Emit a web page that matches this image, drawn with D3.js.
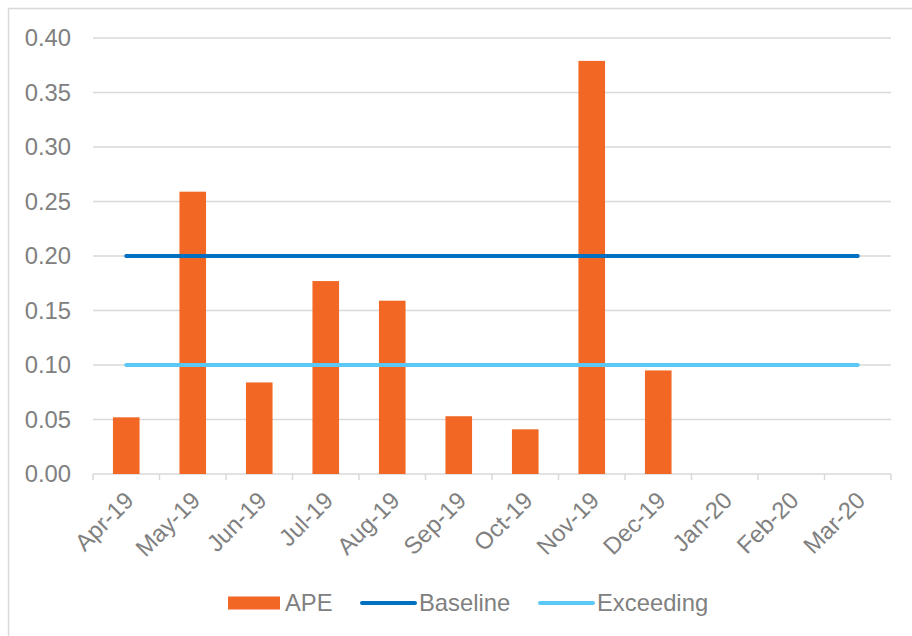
<!DOCTYPE html>
<html>
<head>
<meta charset="utf-8">
<script src="https://cdn.jsdelivr.net/npm/d3@7"></script>
<style>
  html, body { margin: 0; padding: 0; background: #fff; }
  svg { display: block; font-family: "Liberation Sans", Arial, sans-serif; }
</style>
</head>
<body>
<svg id="chart" width="912" height="636"></svg>
<script>
// Monthly categories
const months = ["Apr-19", "May-19", "Jun-19", "Jul-19", "Aug-19", "Sep-19",
                "Oct-19", "Nov-19", "Dec-19", "Jan-20", "Feb-20", "Mar-20"];
// APE values (no data yet for Jan–Mar 2020)
const apeValues = [0.052, 0.259, 0.084, 0.177, 0.159, 0.053, 0.041, 0.379, 0.095, null, null, null];
// Reference levels
const baselineValues = [0.20, 0.20, 0.20, 0.20, 0.20, 0.20, 0.20, 0.20, 0.20, 0.20, 0.20, 0.20];
const exceedingValues = [0.10, 0.10, 0.10, 0.10, 0.10, 0.10, 0.10, 0.10, 0.10, 0.10, 0.10, 0.10];
// Y axis ticks
const yTicks = [0, 0.05, 0.10, 0.15, 0.20, 0.25, 0.30, 0.35, 0.40];

const colors = { ape: "#F26724", baseline: "#0070C0", exceeding: "#5BC8F5", grid: "#D9D9D9", text: "#808080" };
const fontSize = "23.8px";

const svg = d3.select("#chart");

// Outer frame (top & left edges)
svg.append("path")
  .attr("d", "M8.5,636 L8.5,8.5 L912,8.5")
  .attr("fill", "none")
  .attr("stroke", colors.grid)
  .attr("stroke-width", 1.5);

const plot = { left: 93, right: 891, top: 38, bottom: 474 };

const x = d3.scaleBand().domain(months).range([plot.left, plot.right]).paddingInner(0.6).paddingOuter(0.3);
const xc = d3.scalePoint().domain(months).range([plot.left, plot.right]).padding(0.5);
const y = d3.scaleLinear().domain([0, 0.40]).range([plot.bottom, plot.top]);

// Gridlines
svg.append("g")
  .selectAll("line")
  .data(yTicks.filter(d => d > 0))
  .join("line")
  .attr("x1", plot.left).attr("x2", plot.right)
  .attr("y1", d => y(d)).attr("y2", d => y(d))
  .attr("stroke", colors.grid)
  .attr("stroke-width", 1.5);

// Y axis labels
const yAxis = d3.axisLeft(y).tickValues(yTicks).tickFormat(d3.format(".2f")).tickSize(0).tickPadding(22);
const gy = svg.append("g").attr("transform", `translate(${plot.left},0)`).call(yAxis);
gy.select(".domain").remove();
gy.selectAll("text")
  .attr("fill", colors.text)
  .style("font-size", fontSize)
  .style("font-family", "'Liberation Sans', Arial, sans-serif");

// X axis line and boundary ticks
const boundaries = d3.range(months.length + 1).map(i => plot.left + i * (plot.right - plot.left) / months.length);
svg.append("line")
  .attr("x1", plot.left).attr("x2", plot.right)
  .attr("y1", plot.bottom).attr("y2", plot.bottom)
  .attr("stroke", colors.grid).attr("stroke-width", 1.5);
svg.append("g")
  .selectAll("line")
  .data(boundaries)
  .join("line")
  .attr("x1", d => d).attr("x2", d => d)
  .attr("y1", plot.bottom).attr("y2", plot.bottom + 6)
  .attr("stroke", colors.grid).attr("stroke-width", 1.5);

// X labels, rotated
svg.append("g")
  .selectAll("text")
  .data(months)
  .join("text")
  .attr("transform", d => `translate(${xc(d) + 3},${plot.bottom + 22}) rotate(-45)`)
  .attr("text-anchor", "end")
  .attr("dy", "0.35em")
  .attr("fill", colors.text)
  .style("font-size", fontSize)
  .text(d => d);

// Bars
svg.append("g")
  .selectAll("rect")
  .data(months.map((m, i) => ({ m, v: apeValues[i] })).filter(d => d.v != null))
  .join("rect")
  .attr("x", d => x(d.m))
  .attr("width", x.bandwidth())
  .attr("y", d => y(d.v))
  .attr("height", d => y(0) - y(d.v))
  .attr("fill", colors.ape);

// Reference lines drawn over the bars
const line = d3.line().x((d, i) => xc(months[i])).y(d => y(d));
[[baselineValues, colors.baseline], [exceedingValues, colors.exceeding]].forEach(([vals, c]) => {
  svg.append("path")
    .datum(vals)
    .attr("d", line)
    .attr("fill", "none")
    .attr("stroke", c)
    .attr("stroke-width", 4)
    .attr("stroke-linecap", "round");
});

// Legend
const legend = svg.append("g").style("font-size", fontSize);
const ly = 603;
legend.append("rect").attr("x", 228).attr("y", ly - 6.5).attr("width", 52).attr("height", 13).attr("fill", colors.ape);
legend.append("text").attr("x", 285).attr("y", ly).attr("dy", "0.35em").attr("fill", colors.text).text("APE");
legend.append("line").attr("x1", 362).attr("x2", 415).attr("y1", ly).attr("y2", ly)
  .attr("stroke", colors.baseline).attr("stroke-width", 4).attr("stroke-linecap", "round");
legend.append("text").attr("x", 419).attr("y", ly).attr("dy", "0.35em").attr("fill", colors.text).text("Baseline");
legend.append("line").attr("x1", 540).attr("x2", 593).attr("y1", ly).attr("y2", ly)
  .attr("stroke", colors.exceeding).attr("stroke-width", 4).attr("stroke-linecap", "round");
legend.append("text").attr("x", 597).attr("y", ly).attr("dy", "0.35em").attr("fill", colors.text).text("Exceeding");
</script>
</body>
</html>
